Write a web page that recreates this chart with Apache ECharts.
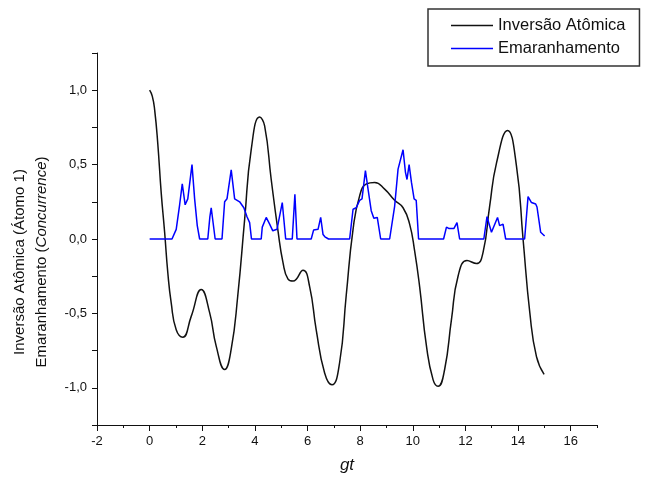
<!DOCTYPE html>
<html>
<head>
<meta charset="utf-8">
<script src="https://cdn.jsdelivr.net/npm/echarts@6/dist/echarts.min.js"></script>
<style>
  html, body { margin: 0; padding: 0; background: #fff; }
  #chart { width: 645px; height: 483px; }
</style>
</head>
<body>
<div id="chart"></div>
<script>
// Inversão Atômica (black)
var invGt = [0, 0.1, 0.19, 0.31, 0.44, 0.57, 0.69, 0.82, 1.01, 1.26, 1.58, 1.96, 2.28, 2.53, 2.85, 3.10, 3.35, 3.61, 3.86, 4.18, 4.37, 4.62, 4.87, 5.07, 5.26, 5.45, 5.83, 6.08, 6.33, 6.65, 6.93, 7.22, 7.47, 7.73, 7.98, 8.24, 8.55, 8.93, 9.31, 9.63, 9.88, 10.07, 10.26, 10.52, 10.77, 10.96, 11.21, 11.47, 11.72, 12.06, 12.42, 12.67, 12.92, 13.18, 13.60, 13.94, 14.19, 14.45, 14.70, 14.99];
var invVal = [1.0, 0.96, 0.87, 0.64, 0.31, 0.045, -0.225, -0.43, -0.61, -0.66, -0.52, -0.34, -0.495, -0.72, -0.877, -0.74, -0.38, 0.13, 0.60, 0.82, 0.76, 0.40, 0.065, -0.16, -0.27, -0.283, -0.21, -0.32, -0.61, -0.90, -0.98, -0.83, -0.38, 0.065, 0.29, 0.37, 0.38, 0.335, 0.26, 0.21, 0.10, -0.08, -0.32, -0.72, -0.945, -0.99, -0.877, -0.54, -0.25, -0.145, -0.165, -0.09, 0.22, 0.51, 0.73, 0.49, 0.0, -0.50, -0.79, -0.91];

// Emaranhamento (blue)
var embGt = [0, 0.85, 1.01, 1.14, 1.24, 1.35, 1.45, 1.61, 1.71, 1.81, 1.90, 2.21, 2.29, 2.34, 2.49, 2.75, 2.85, 2.94, 3.10, 3.23, 3.42, 3.58, 3.70, 3.80, 3.87, 4.24, 4.28, 4.43, 4.56, 4.68, 4.84, 5.04, 5.17, 5.42, 5.52, 5.60, 6.14, 6.23, 6.40, 6.50, 6.59, 6.66, 6.72, 6.80, 7.60, 7.73, 7.85, 7.98, 8.07, 8.20, 8.30, 8.42, 8.52, 8.65, 8.78, 9.12, 9.31, 9.44, 9.63, 9.72, 9.78, 9.86, 9.95, 10.05, 10.13, 10.22, 11.17, 11.28, 11.38, 11.56, 11.68, 11.78, 12.25, 12.30, 12.35, 12.70, 12.82, 12.99, 13.22, 13.30, 13.43, 13.53, 14.25, 14.38, 14.51, 14.67, 14.72, 14.86, 15.01];
var embVal = [0, 0, 0.065, 0.23, 0.37, 0.23, 0.27, 0.50, 0.27, 0.09, 0, 0, 0.15, 0.21, 0, 0, 0.25, 0.27, 0.465, 0.27, 0.25, 0.21, 0.15, 0.11, 0, 0, 0.08, 0.145, 0.10, 0.055, 0.065, 0.245, 0, 0, 0.30, 0, 0, 0.06, 0.065, 0.145, 0.03, 0.015, 0.02, 0, 0, 0.20, 0.21, 0.26, 0.27, 0.46, 0.335, 0.19, 0.14, 0.145, 0, 0, 0.22, 0.47, 0.60, 0.45, 0.40, 0.50, 0.38, 0.27, 0.26, 0, 0, 0.08, 0.07, 0.07, 0.11, 0, 0, 0.01, 0, 0, 0.15, 0.045, 0.145, 0.09, 0.10, 0, 0, 0.285, 0.245, 0.235, 0.215, 0.045, 0.02];

var xMin = -2, xMax = 17;
var yMin = -1.25, yMax = 1.25;

function pairs(xs, ys) {
    return xs.map(function (x, i) { return [x, ys[i]]; });
}

var font = 'Liberation Sans, Arial, sans-serif';
var lineIcon = 'path://M0,0H1V0.035H0Z';
var myChart = echarts.init(document.getElementById('chart'));

var option = {
    animation: false,
    backgroundColor: '#fff',
    grid: { left: 97, right: 48, top: 53, bottom: 58 },
    legend: {
        left: 428,
        top: 9,
        orient: 'vertical',
        padding: [8, 14, 9, 23],
        itemGap: 6,
        itemWidth: 42,
        itemHeight: 14,
        borderColor: '#333',
        borderWidth: 1.5,
        textStyle: { fontFamily: font, fontSize: 16.5, color: '#111' },
        data: [
            { name: 'Inversão Atômica', icon: lineIcon },
            { name: 'Emaranhamento', icon: lineIcon }
        ]
    },
    xAxis: [{
        type: 'value',
        min: xMin,
        max: xMax,
        interval: 2,
        splitLine: { show: false },
        axisLine: { onZero: false, lineStyle: { color: '#111', width: 1 } },
        axisTick: { length: 6, lineStyle: { color: '#111' } },
        axisLabel: { showMaxLabel: false, margin: 10, color: '#111', fontFamily: font, fontSize: 13 },
        name: 'gt',
        nameLocation: 'middle',
        nameGap: 32,
        nameTextStyle: { fontFamily: font, fontSize: 17, fontStyle: 'italic', color: '#111' }
    }, {
        type: 'value',
        min: xMin,
        max: xMax,
        interval: 1,
        position: 'bottom',
        splitLine: { show: false },
        axisLine: { show: false, onZero: false },
        axisTick: { length: 3, lineStyle: { color: '#111' } },
        axisLabel: { show: false }
    }],
    yAxis: {
        type: 'value',
        min: yMin,
        max: yMax,
        interval: 0.25,
        splitLine: { show: false },
        axisLine: { show: true, onZero: false, lineStyle: { color: '#111', width: 1 } },
        axisTick: { show: true, length: 5, lineStyle: { color: '#111' } },
        axisLabel: {
            margin: 10,
            color: '#111',
            fontFamily: font,
            fontSize: 13,
            formatter: function (v) {
                if (Math.abs(v * 2 - Math.round(v * 2)) > 1e-6 || Math.abs(v) > 1.01) return '';
                return v.toFixed(1).replace('.', ',');
            }
        }
    },
    graphic: [{
        type: 'text',
        x: 20,
        y: 262,
        rotation: Math.PI / 2,
        style: {
            text: 'Inversão Atômica (Átomo 1)',
            font: '15px ' + font,
            fill: '#111',
            align: 'center',
            verticalAlign: 'middle'
        }
    }, {
        type: 'text',
        x: 42,
        y: 262,
        rotation: Math.PI / 2,
        style: {
            text: 'Emaranhamento ({i|Concurrence})',
            font: '15px ' + font,
            fill: '#111',
            align: 'center',
            verticalAlign: 'middle',
            rich: {
                i: { fontStyle: 'italic', fontSize: 15, fontFamily: font, fill: '#111' }
            }
        }
    }],
    series: [{
        name: 'Inversão Atômica',
        type: 'line',
        data: pairs(invGt, invVal),
        smooth: 0.5,
        symbol: 'none',
        color: '#111',
        lineStyle: { width: 1.5, color: '#111' }
    }, {
        name: 'Emaranhamento',
        type: 'line',
        data: pairs(embGt, embVal),
        symbol: 'none',
        color: '#0000ff',
        lineStyle: { width: 1.5, color: '#0000ff' }
    }]
};
myChart.setOption(option);
</script>
</body>
</html>
